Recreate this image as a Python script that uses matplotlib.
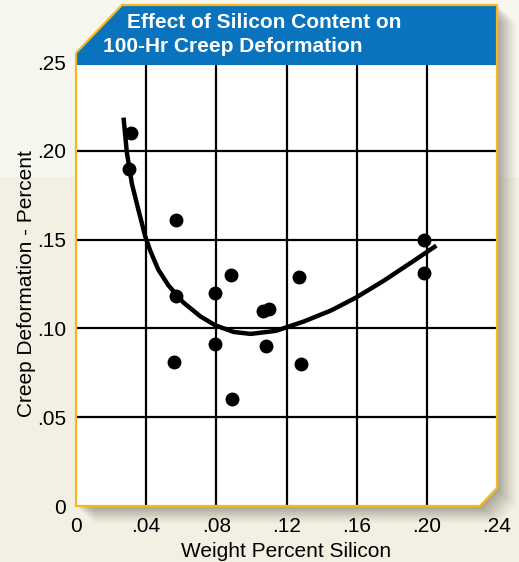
import matplotlib
matplotlib.use("Agg")
import matplotlib.pyplot as plt
from matplotlib.patches import Polygon, Rectangle
import numpy as np

plt.rcParams['font.family'] = ['Liberation Sans', 'DejaVu Sans']

# ---- data ----
title_line1 = "Effect of Silicon Content on"
title_line2 = "100-Hr Creep Deformation"
x_label = "Weight Percent Silicon"
y_label = "Creep Deformation - Percent"
x_ticks = [0, 0.04, 0.08, 0.12, 0.16, 0.20, 0.24]
x_tick_labels = ["0", ".04", ".08", ".12", ".16", ".20", ".24"]
y_ticks = [0, 0.05, 0.10, 0.15, 0.20, 0.25]
y_tick_labels = ["0", ".05", ".10", ".15", ".20", ".25"]

silicon = [0.0315, 0.030, 0.057, 0.057, 0.056, 0.0795, 0.079, 0.0885, 0.089,
           0.1065, 0.110, 0.1085, 0.127, 0.128, 0.1985, 0.1985]
creep = [0.210, 0.190, 0.161, 0.1185, 0.081, 0.120, 0.091, 0.130, 0.060,
         0.110, 0.111, 0.090, 0.129, 0.080, 0.150, 0.131]

fit_x = [0.0271, 0.0290, 0.0319, 0.0357, 0.0395, 0.0423, 0.0469, 0.0527, 0.0612,
         0.0710, 0.0795, 0.0898, 0.0996, 0.1139, 0.1299, 0.1454, 0.1597,
         0.1757, 0.1911, 0.2054]
fit_y = [0.2187, 0.1990, 0.1813, 0.1663, 0.1517, 0.1438, 0.1331, 0.1242, 0.1146,
         0.1067, 0.1017, 0.0980, 0.0969, 0.0986, 0.1039, 0.1101, 0.1174,
         0.1270, 0.1371, 0.1466]

W, H = 519, 562
fig = plt.figure(figsize=(W / 100, H / 100), dpi=100)

# background / decoration axes in pixel coordinates
bg = fig.add_axes([0, 0, 1, 1], zorder=0)
bg.set_xlim(0, W)
bg.set_ylim(H, 0)
bg.axis('off')
bg.add_patch(Rectangle((0, 0), W, H, color='#F2F0E2', zorder=0))
bg.add_patch(Rectangle((0, 0), W, 176, color='#F7F6EF', zorder=0))

panel = [(76, 53), (122, 5), (497, 5), (497, 488), (480, 506), (76, 506)]
# shadow
for i, a in enumerate(np.linspace(0.10, 0.03, 10)):
    off = 3 + i * 1.8
    sh = [(x + off, y + off * 0.9) for x, y in panel]
    bg.add_patch(Polygon(sh, closed=True, facecolor='#6E6A58', alpha=a,
                         edgecolor='none', zorder=1))
bg.add_patch(Polygon(panel, closed=True, facecolor='white', edgecolor='none', zorder=2))

# data axes
L, R, T, B = 76, 497, 62, 506
ax = fig.add_axes([L / W, 1 - B / H, (R - L) / W, (B - T) / H], zorder=1)
ax.set_facecolor('none')
ax.set_xlim(0, 0.24)
ax.set_ylim(0, 0.25)
for s in ax.spines.values():
    s.set_visible(False)
for xv in x_ticks[1:-1]:
    ax.axvline(xv, color='black', lw=1.6, zorder=1)
for yv in y_ticks[1:-1]:
    ax.axhline(yv, color='black', lw=1.6, zorder=1)
ax.plot(fit_x, fit_y, color='black', lw=3.2, solid_capstyle='butt',
        solid_joinstyle='round', zorder=3)
ax.plot(silicon, creep, 'o', color='black', markersize=9, zorder=4)
ax.set_xticks(x_ticks)
ax.set_xticklabels(x_tick_labels, fontsize=15)
ax.set_yticks(y_ticks)
ax.set_yticklabels(y_tick_labels, fontsize=15)
ax.tick_params(length=0, pad=7)
ax.tick_params(axis='x', pad=8)
ax.set_xlabel(x_label, fontsize=15, labelpad=4)
ax.set_ylabel(y_label, fontsize=15, labelpad=1)

# overlay: border and title box
ov = fig.add_axes([0, 0, 1, 1], zorder=2)
ov.set_facecolor('none')
ov.set_xlim(0, W)
ov.set_ylim(H, 0)
ov.axis('off')
box = [(76, 53), (122, 5), (497, 5), (497, 65), (76, 65)]
ov.add_patch(Polygon(box, closed=True, facecolor='#0A73BD', edgecolor='none', zorder=1))
ov.add_patch(Polygon(panel, closed=True, facecolor='none', edgecolor='#F6B81E',
                     lw=1.6, joinstyle='miter', zorder=2))
ov.text(127, 22, title_line1, color='white', fontsize=15,
        fontweight='bold', ha='left', va='center')
ov.text(103, 47, title_line2, color='white', fontsize=15,
        fontweight='bold', ha='left', va='center')

fig.savefig("out.png", dpi=100)
